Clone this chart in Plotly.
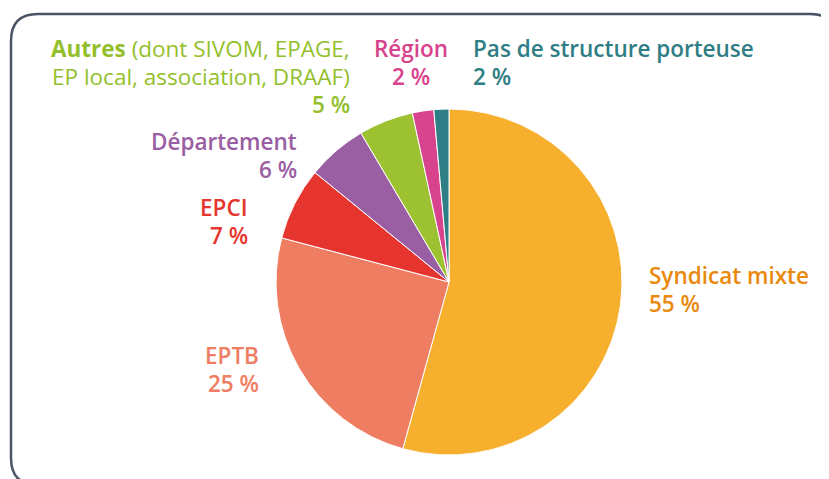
import plotly.graph_objects as go

W, H = 829, 479
OFF = 8  # page body margin in the browser

# ---- data ----
categories = ["Syndicat mixte", "EPTB", "EPCI", "Département", "Autres", "Région",
              "Pas de structure porteuse"]
values = [54.3, 24.8, 6.8, 5.6, 5.1, 2.0, 1.4]
pct_labels = ["55 %", "25 %", "7 %", "6 %", "5 %", "2 %", "2 %"]
autres_detail = ["(dont SIVOM, EPAGE,", "EP local, association, DRAAF)"]

# ---- styles ----
slice_colors = ["#F7B02E", "#EE7D62", "#E5352E", "#9A5EA3", "#9CC232", "#D8438D", "#2F7D85"]
text_colors = ["#E98A0E", "#EE7D62", "#E5352E", "#9A5EA3", "#94BF2C", "#D8438D", "#2F7D85"]
FONT = "Open Sans"
FS = 22.5


def px(x):
    return (x - OFF) / W


def py(y):
    return 1 - (y - OFF) / H


# pie geometry (pixels)
cx, cy, r = 449, 282, 173

fig = go.Figure(go.Pie(
    labels=categories,
    values=values,
    sort=False,
    direction="clockwise",
    rotation=0,
    marker=dict(colors=slice_colors, line=dict(color="white", width=1)),
    textinfo="none",
    hoverinfo="none",
    showlegend=False,
    domain=dict(x=[px(cx - r), px(cx + r)], y=[py(cy + r), py(cy - r)]),
))

# label layout: (x, y of first line, xanchor)
label_pos = {
    "Syndicat mixte": (647, 275, "left"),
    "EPTB": (261, 355, "right"),
    "EPCI": (250, 207, "right"),
    "Département": (299, 141, "right"),
    "Région": (411, 48, "center"),
    "Pas de structure porteuse": (471, 48, "left"),
}
LH = 28.5

ann = []


def add(text, x, y, anchor, color, weight=600):
    ann.append(dict(text=text, x=px(x), y=py(y), xref="paper", yref="paper",
                    xanchor=anchor, yanchor="middle", showarrow=False,
                    font=dict(family=FONT, size=FS, color=color, weight=weight)))


for i, cat in enumerate(categories):
    if cat == "Autres":
        continue
    x, y, a = label_pos[cat]
    add(cat, x, y, a, text_colors[i])
    add(pct_labels[i], x, y + LH, a, text_colors[i])

# Autres block
ia = categories.index("Autres")
ax, ay = 352, 48
add("<b>Autres</b> " + autres_detail[0], ax, ay, "right", text_colors[ia], weight="normal")
add(autres_detail[1], ax, ay + LH, "right", text_colors[ia], weight="normal")
add(pct_labels[ia], ax, ay + 2 * LH, "right", text_colors[ia])

# rounded frame
x0, y0, x1, y1, rr = 11, 14, 837, 485, 27
pts = [
    ("M", [(x0 + rr, y0)]),
    ("L", [(x1 - rr, y0)]),
    ("Q", [(x1, y0), (x1, y0 + rr)]),
    ("L", [(x1, y1 - rr)]),
    ("Q", [(x1, y1), (x1 - rr, y1)]),
    ("L", [(x0 + rr, y1)]),
    ("Q", [(x0, y1), (x0, y1 - rr)]),
    ("L", [(x0, y0 + rr)]),
    ("Q", [(x0, y0), (x0 + rr, y0)]),
]
path = " ".join(c + " " + " ".join(f"{px(x):.5f},{py(y):.5f}" for x, y in p) for c, p in pts) + " Z"

fig.update_layout(
    width=W, height=H,
    margin=dict(l=0, r=0, t=0, b=0),
    paper_bgcolor="white",
    plot_bgcolor="white",
    annotations=ann,
    shapes=[dict(type="path", path=path, xref="paper", yref="paper",
                 line=dict(color="#4B5566", width=2.5), layer="below")],
)

fig.write_html("out.html")
